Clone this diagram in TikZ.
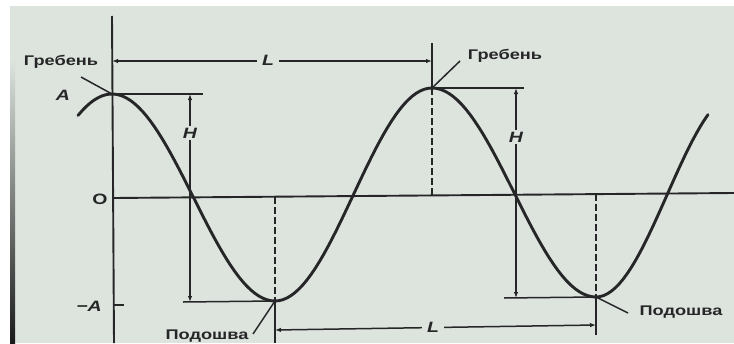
\documentclass[tikz,border=0pt]{standalone}
\usepackage{fontspec}
\setmainfont{Liberation Sans}
\newfontfamily\lblfont[FakeStretch=1.3]{Liberation Sans}
\usetikzlibrary{arrows.meta}
\definecolor{bg}{RGB}{221,228,222}
\definecolor{ink}{RGB}{38,38,40}
\begin{document}
\begin{tikzpicture}[x=1pt,y=-1pt,
  wave/.style={line width=2.9pt, draw=ink, line cap=round},
  axisline/.style={line width=1.9pt, draw=ink},
  thinline/.style={line width=1.5pt, draw=ink},
  dimboth/.style={line width=1.5pt, draw=ink, {Latex[length=6pt,width=4.5pt]}-{Latex[length=6pt,width=4.5pt]}},
  dashline/.style={line width=1.8pt, draw=ink, dash pattern=on 7pt off 3pt},
  lbl/.style={font=\lblfont\bfseries\fontsize{14}{14}\selectfont, text=ink, inner sep=1pt},
  sym/.style={font=\lblfont\bfseries\itshape\fontsize{15}{15}\selectfont, text=ink, inner sep=1pt},
  gap/.style={fill=bg, inner sep=2pt}]
\useasboundingbox (0,0) rectangle (734,343);
\clip (0,0) rectangle (734,343);
% background (photo of a screen)
\fill[bg] (0,0) rectangle (734,343);
\fill[white] (0,0) rectangle (734,6);
\fill[white] (0,0) rectangle (10,343);
\shade[top color=bg, bottom color=black!90] (10,60) rectangle (15,343);

% key points
\coordinate (axtop) at (112,16);
\coordinate (axbot) at (114,343);
\coordinate (oL) at (113,198);
\coordinate (oR) at (734,193);
\coordinate (c1) at (112,94);
\coordinate (t1) at (275,301);
\coordinate (c2) at (432,88);
\coordinate (t2) at (596,297);

% axes
\draw[axisline] (axtop) -- (axbot);
\draw[axisline] (oL) -- (oR);

% wave
\draw[wave] plot[domain=78:275,samples=50] (\x,{197.5-103.5*cos(((\x-112)/163)*180)})
  -- plot[domain=275:432,samples=40] (\x,{194.5+106.5*cos(((\x-275)/157)*180)})
  -- plot[domain=432:596,samples=40] (\x,{192.5-104.5*cos(((\x-432)/164)*180)})
  -- plot[domain=596:708,samples=30] (\x,{195+102*cos(((\x-596)/142)*180)});

% crest / trough level lines
\coordinate (cl1) at (203,94);
\coordinate (tl1) at (183,302);
\coordinate (cl2) at (524,88);
\coordinate (tl2) at (504,298);
\draw[thinline] (c1) -- (cl1);
\draw[thinline] (tl1) -- (t1);
\draw[thinline] (c2) -- (cl2);
\draw[thinline] (tl2) -- (t2);

% H dimensions
\coordinate (h1a) at (190,94);
\coordinate (h1b) at (190,302);
\coordinate (h2a) at (516,88);
\coordinate (h2b) at (516,298);
\draw[dimboth] (h1a) -- (h1b);
\draw[dimboth] (h2a) -- (h2b);
\node[sym, gap] (H1) at (190,133) {H};
\node[sym, gap] (H2) at (516,137) {H};

% dashed verticals
\coordinate (d1) at (432,195.4);
\coordinate (d2) at (275,196.7);
\coordinate (d3) at (596,194.1);
\draw[dashline] (c2) -- (d1);
\draw[dashline] (d2) -- (t1);
\draw[dashline] (d3) -- (t2);

% ticks
\coordinate (tk1) at (432,43);
\coordinate (tk2) at (275,343);
\coordinate (tk3) at (596,335);
\coordinate (ma1) at (114,305);
\coordinate (ma2) at (124,305);
\draw[thinline] (tk1) -- (c2);
\draw[thinline] (t1) -- (tk2);
\draw[thinline] (t2) -- (tk3);
\draw[thinline] (ma1) -- (ma2);

% L dimensions
\coordinate (l1a) at (112,61);
\coordinate (l1b) at (432,61);
\coordinate (l2a) at (275,330);
\coordinate (l2b) at (596,325);
\draw[dimboth] (l1a) -- (l1b);
\draw[dimboth] (l2a) -- (l2b);
\node[sym, gap, inner xsep=5pt] (L1) at (268,60) {L};
\node[sym, gap, inner xsep=5pt] (L2) at (433,327) {L};

% axis labels
\node[sym] (A) at (63,95) {A};
\node[lbl, font=\lblfont\bfseries\fontsize{15}{15}\selectfont] (O) at (100,199) {O};
\node[sym] (mA) at (89,306) {−A};

% crest / trough labels
\node[lbl] (g1) at (61,62) {Гребень};
\node[lbl] (g2) at (505,56) {Гребень};
\node[lbl, anchor=base] (p1) at (207,339) {Подошва};
\node[lbl] (p2) at (681,312) {Подошва};
\coordinate (g1e) at (81,77);
\coordinate (g2e) at (460,61);
\coordinate (p1e) at (253,334);
\coordinate (p2e) at (628,313);
\draw[thinline] (g1e) -- (c1);
\draw[thinline] (g2e) -- (c2);
\draw[thinline] (p1e) -- (t1);
\draw[thinline] (p2e) -- (t2);
\end{tikzpicture}
\end{document}
